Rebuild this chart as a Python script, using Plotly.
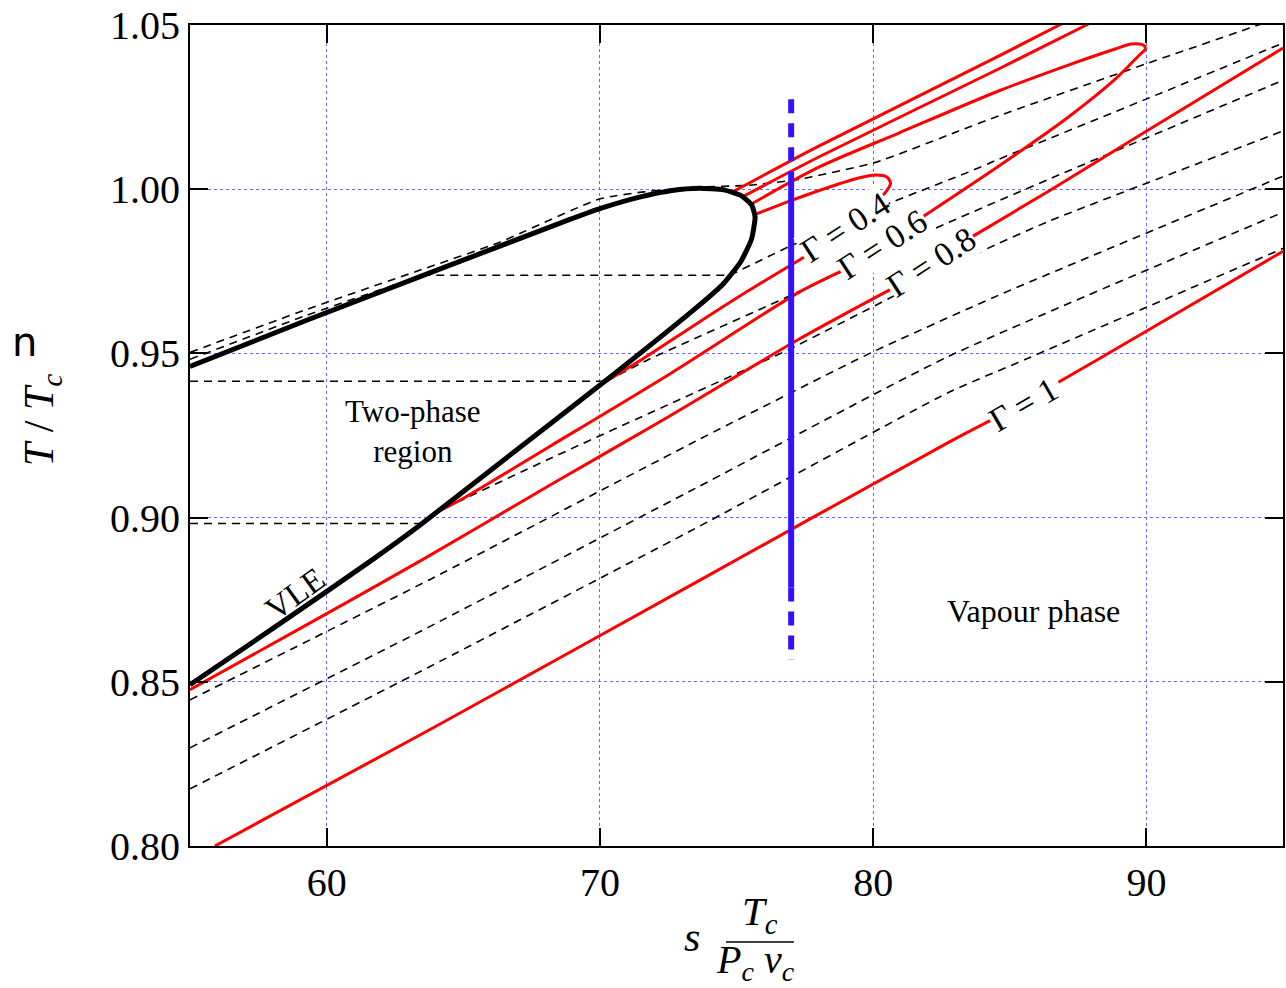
import plotly.graph_objects as go

# ---------------- data ----------------
# VLE dome: saturated vapour branch (bottom-left) -> nose -> critical point -> saturated liquid branch
vle_s = [55.00, 58.29, 61.68, 63.40, 66.32, 70.23, 73.63, 74.53, 75.16, 75.55, 75.68, 75.55, 75.16, 74.53,
         73.63, 72.64, 71.45, 70.08, 68.52, 59.27, 55.00]
vle_T = [0.8491, 0.8677, 0.8872, 0.8976, 0.9165, 0.9418, 0.9646, 0.9713, 0.9780, 0.9848, 0.9915, 0.9953, 0.9981, 0.9998,
         1.0003, 0.9996, 0.9976, 0.9943, 0.9896, 0.9601, 0.9460]

# Gamma contours (red), split where the inline labels sit
g04_lo_s = [70.23, 71.55, 73.63, 75.46, 77.47]
g04_lo_T = [0.9415, 0.9482, 0.9595, 0.9692, 0.9793]
g04_up_s = [80.32, 80.46, 80.64, 80.50, 80.10, 79.47, 78.38, 76.92, 75.71]
g04_up_T = [0.9979, 0.9991, 1.0018, 1.0037, 1.0043, 1.0034, 1.0006, 0.9963, 0.9924]

g06_lo_s = [64.13, 64.86, 68.15, 72.53, 77.28, 78.82]
g06_lo_T = [0.9021, 0.9052, 0.9216, 0.9436, 0.9686, 0.9750]
g06_up_s = [81.85, 84.59, 87.04, 88.86, 89.70, 89.96, 89.89, 89.45, 88.86, 87.04, 84.59, 80.94, 78.01, 75.53]
g06_up_T = [0.9918, 1.0070, 1.0213, 1.0335, 1.0405, 1.0427, 1.0439, 1.0442, 1.0427, 1.0375, 1.0299, 1.0171, 1.0067, 0.9954]

g08_lo_s = [55.00, 59.02, 63.51, 68.15, 72.53, 77.28, 80.64]
g08_lo_T = [0.8476, 0.8662, 0.8872, 0.9098, 0.9308, 0.9543, 0.9695]
g08_mid_s = [83.60, 86.42, 90.07, 95.00]
g08_mid_T = [0.9854, 0.9994, 1.0180, 1.0430]
g08_up_s = [75.20, 78.01, 84.59, 87.88]
g08_up_T = [0.9976, 1.0098, 1.0366, 1.0503]

g10_lo_s = [55.91, 63.77, 73.63, 82.76, 84.30]
g10_lo_T = [0.8000, 0.8354, 0.8808, 0.9229, 0.9296]
g10_mid_s = [86.78, 88.24, 95.00]
g10_mid_T = [0.9412, 0.9482, 0.9811]
g10_up_s = [74.91, 78.01, 84.59, 86.89]
g10_up_T = [0.9994, 1.0131, 1.0405, 1.0503]

# isobars (black dashed): horizontal two-phase parts and curved single-phase parts
iso_flat_T = [0.9738, 0.9415, 0.8982]
iso_flat_s0 = [63.50, 55.00, 55.00]
iso_flat_s1 = [74.76, 70.23, 63.45]

iso_s = [
    [55.00, 59.27, 63.40, 66.32, 69.98, 71.80, 73.63, 75.46, 77.28, 80.10, 83.13, 84.59, 89.96, 94.20, 95.18],
    [55.00, 59.27, 63.50],
    [74.76, 76.95, 80.32, 83.49, 84.59, 90.07, 95.18],
    [70.23, 71.80, 76.92, 82.03, 86.42, 95.18],
    [63.45, 64.02, 68.26, 72.53, 76.92, 83.97, 86.42, 95.18],
    [55.00, 63.77, 73.63, 79.95, 84.59, 95.18],
    [55.00, 63.77, 73.63, 82.76, 95.18],
    [55.00, 63.77, 73.63, 82.76, 85.58, 95.18],
]
iso_T = [
    [0.9503, 0.9634, 0.9753, 0.9838, 0.9970, 0.9994, 1.0006, 1.0012, 1.0030, 1.0082, 1.0177, 1.0223, 1.0381, 1.0503, 1.0534],
    [0.9482, 0.9616, 0.9738],
    [0.9738, 0.9826, 0.9948, 1.0052, 1.0091, 1.0277, 1.0451],
    [0.9415, 0.9482, 0.9674, 0.9872, 1.0030, 1.0338],
    [0.8982, 0.9015, 0.9183, 0.9345, 0.9512, 0.9811, 0.9902, 1.0183],
    [0.8445, 0.8811, 0.9238, 0.9503, 0.9677, 1.0046],
    [0.8299, 0.8668, 0.9095, 0.9491, 0.9936],
    [0.8174, 0.8546, 0.8973, 0.9381, 0.9482, 0.9826],
]

blue_s = 77.0
blue_solid_T = [1.0055, 0.8787]
blue_dash_top_T = [1.0274, 1.0055]
blue_dash_bot_T = [0.8787, 0.8567]

xticks = [60, 70, 80, 90]
yticks = [0.80, 0.85, 0.90, 0.95, 1.00, 1.05]
ytick_text = ["0.80", "0.85", "0.90", "0.95", "1.00", "1.05"]

# ---------------- figure ----------------
fig = go.Figure()
RED = "#ff0000"
SERIF = "Liberation Serif"
DASH = dict(color="black", width=1.6, dash="8px,6px")

for T, s0, s1 in zip(iso_flat_T, iso_flat_s0, iso_flat_s1):
    fig.add_trace(go.Scatter(x=[s0, s1], y=[T, T], mode="lines", line=DASH,
                             hoverinfo="skip", showlegend=False))
for xs, ys in zip(iso_s, iso_T):
    fig.add_trace(go.Scatter(x=xs, y=ys, mode="lines",
                             line=dict(**DASH, shape="spline", smoothing=0.5),
                             hoverinfo="skip", showlegend=False))

for xs, ys in [(g04_lo_s, g04_lo_T), (g04_up_s, g04_up_T), (g06_lo_s, g06_lo_T), (g06_up_s, g06_up_T),
               (g08_lo_s, g08_lo_T), (g08_mid_s, g08_mid_T), (g08_up_s, g08_up_T),
               (g10_lo_s, g10_lo_T), (g10_mid_s, g10_mid_T), (g10_up_s, g10_up_T)]:
    fig.add_trace(go.Scatter(x=xs, y=ys, mode="lines",
                             line=dict(color=RED, width=3, shape="spline", smoothing=0.8),
                             hoverinfo="skip", showlegend=False))

fig.add_trace(go.Scatter(x=vle_s, y=vle_T, mode="lines",
                         line=dict(color="black", width=5, shape="spline", smoothing=0.5),
                         hoverinfo="skip", showlegend=False))

BLUE = "#3311ff"
fig.add_trace(go.Scatter(x=[blue_s, blue_s], y=blue_solid_T, mode="lines",
                         line=dict(color=BLUE, width=6), hoverinfo="skip", showlegend=False))
for ys in (blue_dash_top_T, blue_dash_bot_T):
    fig.add_trace(go.Scatter(x=[blue_s, blue_s], y=ys, mode="lines",
                             line=dict(color=BLUE, width=6, dash="14px,10px"), hoverinfo="skip", showlegend=False))

axis_common = dict(showline=True, linecolor="black", linewidth=2, mirror="ticks",
                   ticks="inside", ticklen=18, tickwidth=1.5, tickcolor="black",
                   showgrid=True, gridcolor="#6666ff", griddash="dot", gridwidth=1,
                   zeroline=False, tickfont=dict(family=SERIF, size=40, color="black"))

fig.update_xaxes(range=[55, 95], tickvals=xticks, ticktext=[str(v) for v in xticks], **axis_common)
fig.update_yaxes(range=[0.80, 1.05], tickvals=yticks, ticktext=ytick_text, **axis_common)

ann = []
def txt(x, y, t, size=28, angle=0, xref="x", yref="y", family=SERIF, xanchor="center", bg=None):
    d = dict(x=x, y=y, xref=xref, yref=yref, text=t, showarrow=False, textangle=angle,
             font=dict(family=family, size=size, color="black"), xanchor=xanchor, yanchor="middle")
    if bg:
        d.update(bgcolor=bg, borderpad=0)
    ann.append(d)

txt(63.15, 0.9262, "Two-phase<br>region", 31)
txt(85.87, 0.8716, "Vapour phase", 32)
txt(58.84, 0.8768, "VLE", 33, -36)
txt(78.96, 0.9884, "Γ = 0.4", 34, -33, bg="white")
txt(80.32, 0.9832, "Γ = 0.6", 34, -33, bg="white")
txt(82.10, 0.9777, "Γ = 0.8", 34, -33, bg="white")
txt(85.50, 0.9345, "Γ = 1", 34, -30, bg="white")

# axis titles (paper coordinates)
txt(-0.1352, 0.5189, "<i>T</i> / <i>T<sub>c</sub></i>", 42, -90, "paper", "paper")
txt(0.4594, -0.1108, "<i>s</i>", 42, 0, "paper", "paper")
txt(0.5215, -0.0830, "<i>T<sub>c</sub></i>", 41, 0, "paper", "paper")
txt(0.5178, -0.1410, "<i>P<sub>c</sub> v<sub>c</sub></i>", 40, 0, "paper", "paper")
txt(-0.1650, 0.6139, "n", 40, 0, "paper", "paper", family="DejaVu Sans", xanchor="left")

fig.update_layout(
    width=1286, height=988,
    margin=dict(l=190, r=1, t=25, b=142),
    paper_bgcolor="white", plot_bgcolor="white",
    annotations=ann,
    shapes=[dict(type="line", xref="paper", yref="paper", x0=0.4904, x1=0.5525, y0=-0.1169, y1=-0.1169,
                 line=dict(color="black", width=1.5))],
)

fig.write_html("out.html")
